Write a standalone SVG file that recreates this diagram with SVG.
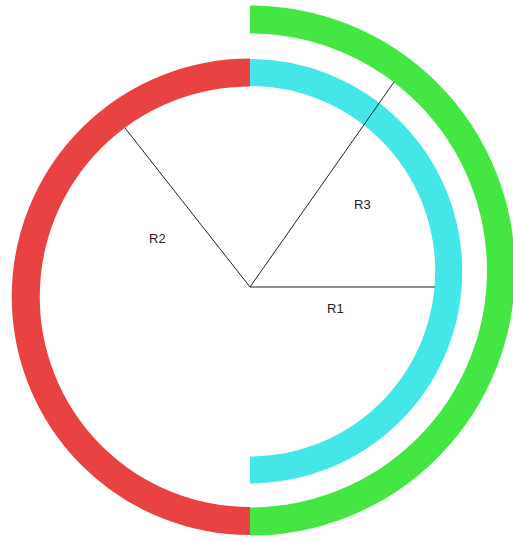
<svg xmlns="http://www.w3.org/2000/svg" width="513" height="542" viewBox="0 0 513 542">
<style>
.arc{fill:none;stroke-linecap:butt}
.ln{stroke:#222;stroke-width:1;fill:none}
.lbl{font-family:"Liberation Sans",Arial,sans-serif;font-size:13px;fill:#222}
</style>
<rect width="513" height="542" fill="#fff"/>
<g id="red-arc"><path class="arc" d="M250,72.5 A224.25,224.25 0 0 0 250,521" stroke="#e84242" stroke-width="28"/></g>
<g id="cyan-arc"><path class="arc" d="M250,72.5 A198.75,198.75 0 0 1 250,470" stroke="#44e6e8" stroke-width="27"/></g>
<g id="green-arc"><path class="arc" d="M250,19.5 A251,251 0 0 1 250,521.5" stroke="#44e644" stroke-width="28"/></g>
<g id="connectors">
<path class="ln" d="M250,287 L435,287"/>
<path class="ln" d="M250,287 L125,128"/>
<path class="ln" d="M250,287 L394,82"/>
</g>
<g id="labels">
<text class="lbl" x="327" y="313">R1</text>
<text class="lbl" x="149" y="243">R2</text>
<text class="lbl" x="354" y="209">R3</text>
</g>
</svg>
